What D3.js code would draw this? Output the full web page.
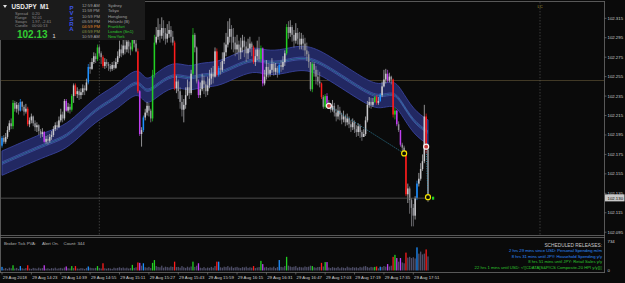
<!DOCTYPE html>
<html>
<head>
<meta charset="utf-8">
<script src="https://cdn.jsdelivr.net/npm/d3@7/dist/d3.min.js"></script>
<style>
body { margin: 0; background: #0a0a0a; }
svg { display: block; font-family: 'Liberation Sans', Arial, sans-serif; }
</style>
</head>
<body>
<div id="viz"></div>
<script>
// USDJPY M1, 29 Aug 2018, bars 14:07 .. 17:59
// prices kept as thousandths above 102.000 (192 -> 102.192)
var timeLabels = ['29 Aug 2018', '29 Aug 14:23', '29 Aug 14:39', '29 Aug 14:55', '29 Aug 15:11',
	'29 Aug 15:27', '29 Aug 15:43', '29 Aug 15:59', '29 Aug 16:15', '29 Aug 16:31', '29 Aug 16:47',
	'29 Aug 17:03', '29 Aug 17:19', '29 Aug 17:35', '29 Aug 17:51'];
var timeLabelBars = [0, 16, 32, 48, 64, 80, 96, 112, 128, 144, 160, 176, 192, 208, 224];
var priceTicks = [102.315, 102.295, 102.275, 102.255, 102.235, 102.215, 102.195,
	102.175, 102.155, 102.135, 102.115, 102.095];
var bidPrice = 102.130;
var levelPrice = 102.251;
var separatorBars = [53, 293];

var firstOpenK = 184;
var closeK = [
	192,188,193,200,207,204,228,222,226,220, //0
	229,224,219,222,206,210,214,207,203,205,
	199,196,198,188,191,189,193,195,201,205, //20
	203,210,216,212,230,220,224,221,235,246,
	237,240,236,239,243,241,249,265,263,270, //40
	276,273,285,279,275,266,270,268,266,263,
	267,264,270,276,283,279,287,283,291,286, //60
	283,295,289,281,240,196,200,213,218,225,
	220,212,257,290,296,303,297,305,300,294, //80
	299,303,296,290,243,250,240,229,221,226,
	236,244,238,258,298,285,250,236,242,251, //100
	247,240,246,253,258,255,281,257,264,262,
	271,280,288,296,304,296,290,283,288,280, //120
	285,292,286,279,284,289,285,270,276,283,
	273,284,248,255,265,258,262,268,260,264, //140
	259,267,265,270,279,306,300,306,298,292,
	300,294,288,294,289,282,278,270,242,268, //160
	262,255,250,248,234,224,235,228,226,221,
	225,218,214,220,216,211,214,208,212,206, //180
	203,208,201,198,204,198,193,196,210,226,
	229,226,229,234,228,230,236,245,252,258, //200
	251,255,252,216,220,206,200,185,182,178,
	134,140,128,120,112,130,145,150,160,168, //220
	214,180,131];
var highK = [
	194,195,197,204,210,212,231,230,229,228,
	232,230,226,227,224,213,217,215,210,208,
	206,201,202,199,194,195,196,199,204,208,
	209,214,222,219,232,232,228,227,237,248,
	248,244,242,243,247,246,253,268,270,274,
	280,279,288,287,281,277,274,273,270,268,
	270,271,274,281,292,288,300,295,298,296,
	290,298,300,293,284,241,203,215,222,229,
	228,222,262,298,306,315,309,316,313,305,
	309,312,307,302,292,256,252,244,236,232,
	244,252,250,262,305,300,286,252,249,258,
	256,250,255,262,264,266,285,284,266,270,
	280,290,300,312,315,308,305,296,298,292,
	295,298,296,291,294,296,291,287,283,292,
	296,287,285,262,272,269,268,274,270,269,
	266,269,272,276,282,309,312,313,308,303,
	310,305,301,300,298,295,290,281,270,270,
	270,266,262,260,249,236,237,238,231,228,
	231,228,222,226,224,218,220,216,217,214,
	210,212,210,205,207,206,200,201,214,230,
	234,233,233,235,236,234,238,250,262,263,
	262,259,256,253,223,221,209,200,187,184,
	179,145,142,130,124,132,148,156,166,175,
	226,217,180];
var lowK = [
	182,186,186,191,198,201,201,219,218,216,
	219,220,215,217,204,203,207,204,199,198,
	195,192,193,187,186,185,187,190,193,199,
	200,202,208,208,210,219,218,217,219,228,
	235,233,231,232,236,236,240,247,258,262,
	268,269,271,276,268,264,263,264,261,260,
	261,262,263,268,274,275,277,278,280,279,
	277,281,285,280,238,194,183,198,210,215,
	214,208,209,254,288,293,290,294,292,288,
	290,295,290,287,241,238,232,222,214,208,
	222,235,232,236,256,280,248,233,233,240,
	237,234,236,243,247,248,254,255,255,257,
	260,268,276,285,290,283,280,276,278,272,
	273,280,275,270,273,280,276,268,266,272,
	270,270,245,246,252,254,255,259,256,257,
	254,257,260,262,266,277,294,296,291,285,
	289,288,283,283,282,276,271,264,240,239,
	255,247,246,244,232,222,222,226,222,218,
	219,214,209,211,210,206,208,204,205,202,
	198,200,197,193,194,192,189,193,194,208,
	223,222,224,228,226,226,229,234,244,248,
	249,249,247,213,211,204,198,183,178,175,
	132,125,114,101,101,108,128,142,148,158,
	166,176,126];
// PVSRA coloured bars: R climax bear, G climax bull, B rising bull, M rising bear
var colouredBars = {0:'B', 6:'G', 10:'B', 14:'R', 23:'M', 35:'M', 38:'G', 40:'R', 47:'B', 52:'G',
	55:'R', 71:'G', 74:'R', 75:'M', 77:'B', 82:'G', 83:'G', 94:'R', 104:'G', 107:'M', 117:'R',
	118:'B', 137:'R', 141:'G', 142:'M', 151:'B', 155:'G', 169:'G', 174:'R', 176:'G', 177:'M',
	203:'G', 204:'R', 206:'B', 210:'M', 213:'R', 214:'G', 215:'M', 217:'M', 220:'R', 226:'B', 231:'R'};
var volumes = [
	90,45,60,40,70,55,130,50,65,40,
	110,55,45,60,130,50,40,65,55,45,
	70,50,60,130,45,55,40,60,50,70,
	45,55,65,50,75,100,55,50,110,60,
	110,50,45,60,55,40,65,100,70,60,
	55,65,110,60,50,180,55,45,60,50,
	40,70,55,65,80,60,75,55,70,50,
	60,140,65,80,200,190,120,180,80,70,
	90,60,190,260,110,90,80,120,70,95,
	85,75,100,90,220,85,90,70,110,80,
	65,95,75,100,220,90,120,180,70,60,
	85,55,75,65,90,70,110,220,220,80,
	70,95,85,110,75,100,65,80,90,70,
	60,85,75,95,65,80,70,110,60,75,
	85,240,160,75,90,65,80,70,95,60,
	85,260,90,80,110,340,120,100,85,95,
	110,70,90,80,75,100,85,95,120,110,
	80,70,85,90,190,100,210,210,75,60,
	85,70,65,90,55,80,70,60,95,75,
	65,85,70,80,60,90,75,100,110,85,
	70,90,80,90,100,55,95,85,110,95,
	160,100,120,340,390,310,220,310,200,180,
	445,320,340,310,330,300,576,420,470,400,
	420,524,350];
var volumeMax = 734;
// moving average envelope centre, sampled on bars
var bandBars = [0, 17, 26, 35, 44, 53, 63, 74, 78, 83, 93, 102, 108, 117, 126, 137, 144, 153, 166, 180, 199, 206, 213, 217, 224, 232];
var bandMidK = [166, 180, 187, 193, 209, 224, 234, 254, 238, 244, 259, 252, 257, 257, 265, 274, 269, 270, 277, 262, 238, 234, 239, 231, 208, 198];
var bandHalfK = 12.5;
// signal markers: w = white ring, y = yellow ring
var markers = [
	{bar: 178, k: 225, type: 'w'},
	{bar: 219, k: 176, type: 'y'},
	{bar: 231, k: 183, type: 'w'},
	{bar: 232, k: 131, type: 'y'}
];
var infoLabels = ['Spread', 'Range', 'Swaps', 'Candle'];
var infoValues = ['0.20', '92.01', '1.97, -2.61', '00:00:13'];
var sessionTimes = ['12:59 AM', '11:59 PM', '10:59 PM', '05:59 PM', '04:59 PM', '03:59 PM', '10:59 AM'];
var sessionCities = ['Sydney', 'Tokyo', 'Hongkong', 'Helsinki (B)', 'Frankfurt', 'London (Sn1)', 'NewYork'];
var releases = [
	{t: 'SCHEDULED RELEASES:', c: '#c8c8c8'},
	{t: '2 hrs 29 mins since USD: Personal Spending m/m', c: '#2d8cff'},
	{t: '8 hrs 31 mins until JPY: Household Spending y/y', c: '#2d8cff'},
	{t: '8 hrs 51 mins until JPY: Retail Sales y/y', c: '#2ec82e'},
	{t: '22 hrs 1 mins until USD: <![CDATA[S&P/CS Composite-20 HPI y/y]]\u25AF', c: '#2ec82e'}
];

var W = 625, H = 283;
var kp = function(k) { return 102 + k / 1000; };
var colours = {R: '#ff1c1c', G: '#22d022', B: '#1e90ff', M: '#c040f0', up: '#c8c8cc', dn: '#909096'};

var bars = closeK.map(function(c, i) {
	var open = i === 0 ? firstOpenK : closeK[i - 1];
	return {
		i: i, open: kp(open), close: kp(c), high: kp(highK[i]), low: kp(lowK[i]),
		kind: colouredBars[i] || (c >= open ? 'up' : 'dn'),
		vol: volumes[i]
	};
});

var svg = d3.select('#viz').append('svg')
	.attr('width', W).attr('height', H)
	.style('background', '#0a0a0a');

var x = d3.scaleLinear().domain([0, 232]).range([2, 428]);
var y = d3.scaleLinear().domain([102.315, 102.095]).range([18.3, 232.2]);
var yv = d3.scaleLinear().domain([0, volumeMax]).range([270.5, 241]);

svg.append('clipPath').attr('id', 'main')
	.append('rect').attr('x', 1).attr('y', 2).attr('width', 603).attr('height', 233);
var plot = svg.append('g').attr('clip-path', 'url(#main)');

// horizontal level and period separators
plot.append('line')
	.attr('x1', 0).attr('x2', 604)
	.attr('y1', y(levelPrice)).attr('y2', y(levelPrice))
	.style('stroke', '#4a3f2a').style('stroke-width', 0.9);
plot.selectAll('.sep').data(separatorBars).enter().append('line')
	.attr('class', 'sep')
	.attr('x1', function(d) { return x(d); }).attr('x2', function(d) { return x(d); })
	.attr('y1', 2).attr('y2', 235)
	.style('stroke', '#5a5a5a').style('stroke-width', 0.6)
	.style('stroke-dasharray', '1.5,1.5');

// envelope band
var band = bandBars.map(function(b, j) { return {b: b, m: bandMidK[j]}; });
var area = d3.area()
	.x(function(d) { return x(d.b); })
	.y0(function(d) { return y(kp(d.m - bandHalfK)); })
	.y1(function(d) { return y(kp(d.m + bandHalfK)); })
	.curve(d3.curveBasis);
plot.append('path').datum(band).attr('d', area)
	.style('fill', '#222862').style('stroke', '#39439c').style('stroke-width', 0.9);
[-1.3, 1.3].forEach(function(off) {
	plot.append('path').datum(band)
		.attr('d', d3.line().x(function(d) { return x(d.b); })
			.y(function(d) { return y(kp(d.m + off)); }).curve(d3.curveBasis))
		.style('fill', 'none').style('stroke', '#5066c4').style('stroke-width', 0.6);
});
plot.append('path').datum(band)
	.attr('d', d3.line().x(function(d) { return x(d.b); })
		.y(function(d) { return y(kp(d.m)); }).curve(d3.curveBasis))
	.style('fill', 'none').style('stroke', '#3fa8d0').style('stroke-width', 0.5);

// candles
var candle = plot.selectAll('.bar').data(bars).enter().append('g').attr('class', 'bar');
candle.append('line')
	.attr('x1', function(d) { return x(d.i); }).attr('x2', function(d) { return x(d.i); })
	.attr('y1', function(d) { return y(d.high); }).attr('y2', function(d) { return y(d.low); })
	.style('stroke', function(d) { return colours[d.kind]; })
	.style('stroke-width', 0.7);
candle.append('rect')
	.attr('x', function(d) { return x(d.i) - 0.75; })
	.attr('width', 1.5)
	.attr('y', function(d) { return Math.min(y(d.open), y(d.close)); })
	.attr('height', function(d) { return Math.max(0.8, Math.abs(y(d.open) - y(d.close))); })
	.style('fill', function(d) { return colours[d.kind]; });

// trend lines between signal markers
[[0, 1], [2, 3]].forEach(function(p) {
	var a = markers[p[0]], b = markers[p[1]];
	plot.append('line')
		.attr('x1', x(a.bar)).attr('y1', y(kp(a.k)))
		.attr('x2', x(b.bar)).attr('y2', y(kp(b.k)))
		.style('stroke', '#3aa6cc').style('stroke-width', 0.8)
		.style('stroke-dasharray', '1,1.4');
});

// bid line
plot.append('line')
	.attr('x1', 0).attr('x2', x(232) + 3)
	.attr('y1', y(bidPrice)).attr('y2', y(bidPrice))
	.style('stroke', '#5c5c5c').style('stroke-width', 0.8);
plot.append('rect')
	.attr('x', x(232) + 4).attr('y', y(bidPrice) - 1.5)
	.attr('width', 2.2).attr('height', 3)
	.style('fill', '#22d022');

plot.selectAll('.mk').data(markers).enter().append('circle')
	.attr('class', 'mk')
	.attr('cx', function(d) { return x(d.bar); })
	.attr('cy', function(d) { return y(kp(d.k)); })
	.attr('r', 2.5)
	.style('fill', function(d) { return d.type === 'w' ? '#c83a3a' : '#0a0a0a'; })
	.style('stroke', function(d) { return d.type === 'w' ? '#f4f4f4' : '#f2e600'; })
	.style('stroke-width', 1.2);

plot.append('text').attr('x', x(separatorBars[1]) - 2.5).attr('y', 8)
	.style('font-size', '4px').style('fill', '#a89a30').text('LC');

// frames
var frame = svg.append('g').style('stroke', '#6c6c6c').style('stroke-width', 0.8).style('fill', 'none');
frame.append('line').attr('x1', 0).attr('x2', 605).attr('y1', 1.5).attr('y2', 1.5);
frame.append('line').attr('x1', 604.5).attr('x2', 604.5).attr('y1', 1.5).attr('y2', 272.5);
frame.append('line').attr('x1', 0).attr('x2', 605).attr('y1', 235.5).attr('y2', 235.5);
frame.append('line').attr('x1', 0).attr('x2', 605).attr('y1', 237.5).attr('y2', 237.5);
frame.append('line').attr('x1', 0).attr('x2', 605).attr('y1', 272.5).attr('y2', 272.5);
frame.append('line').attr('x1', 0.5).attr('x2', 0.5).attr('y1', 1.5).attr('y2', 272.5);

// price axis
var yAxis = svg.append('g');
priceTicks.forEach(function(p) {
	yAxis.append('line').attr('x1', 604.5).attr('x2', 606.5)
		.attr('y1', y(p)).attr('y2', y(p))
		.style('stroke', '#8a8a8a').style('stroke-width', 0.6);
	yAxis.append('text').attr('x', 607.5).attr('y', y(p) + 1.5)
		.style('font-size', '4.3px').style('fill', '#d0d0d0').text(p.toFixed(3));
});
yAxis.append('rect').attr('x', 605).attr('y', y(bidPrice) - 3.8)
	.attr('width', 19.5).attr('height', 7).style('fill', '#c8c8c8');
yAxis.append('text').attr('x', 607.5).attr('y', y(bidPrice) + 1.5)
	.style('font-size', '4.3px').style('fill', '#000').text(bidPrice.toFixed(3));

// volume sub-window
var vol = svg.append('g');
vol.selectAll('.v').data(bars).enter().append('rect')
	.attr('class', 'v')
	.attr('x', function(d) { return x(d.i) - 0.65; })
	.attr('width', 1.3)
	.attr('y', function(d) { return yv(d.vol); })
	.attr('height', function(d) { return yv(0) - yv(d.vol); })
	.style('fill', function(d) { return colouredBars[d.i] ? colours[d.kind] : '#4e4e68'; });
vol.append('text').attr('x', 4).attr('y', 244.8)
	.style('font-size', '4.3px').style('fill', '#b8b8b8')
	.attr('xml:space', 'preserve')
	.text('Broker Tick PVA:     Alert On.    Count: 344');
[volumeMax, 0].forEach(function(v) {
	vol.append('text').attr('x', 607.5).attr('y', yv(v) + 1.5)
		.style('font-size', '4.3px').style('fill', '#d0d0d0').text(v);
});
vol.selectAll('.rel').data(releases).enter().append('text')
	.attr('class', 'rel')
	.attr('x', 602).attr('y', function(d, i) { return 247 + i * 5.4; })
	.attr('text-anchor', 'end')
	.style('font-size', function(d, i) { return i === 0 ? '4.8px' : '4.2px'; })
	.style('fill', function(d) { return d.c; })
	.text(function(d) { return d.t; });

// time axis
var tAxis = svg.append('g');
timeLabelBars.forEach(function(b, j) {
	tAxis.append('line').attr('x1', x(b)).attr('x2', x(b)).attr('y1', 272.5).attr('y2', 274.5)
		.style('stroke', '#8a8a8a').style('stroke-width', 0.6);
	tAxis.append('text').attr('x', x(b) + 0.8).attr('y', 279)
		.style('font-size', '4.3px').style('fill', '#d0d0d0').text(timeLabels[j]);
});

// info panel
var info = svg.append('g');
info.append('rect').attr('x', 0).attr('y', 0).attr('width', 145).attr('height', 40)
	.style('fill', '#1b1b1b');
info.append('path').attr('d', 'M3,5 L7,5 L5,8 Z').style('fill', '#e0e0e0');
info.append('text').attr('x', 11.5).attr('y', 9.2)
	.style('font-size', '6.3px').style('font-weight', 'bold').style('fill', '#ececec')
	.attr('xml:space', 'preserve').text('USDJPY  M1');
infoLabels.forEach(function(l, j) {
	info.append('text').attr('x', 15).attr('y', 14.8 + j * 4.2)
		.style('font-size', '4px').style('fill', '#8c8c8c').text(l);
	info.append('text').attr('x', 32).attr('y', 14.8 + j * 4.2)
		.style('font-size', '4px').style('fill', '#8c8c8c').text(infoValues[j]);
});
info.append('text').attr('x', 17).attr('y', 37.8)
	.style('font-size', '10px').style('font-weight', 'bold').style('fill', '#32cd32')
	.text(bidPrice.toFixed(2));
info.append('text').attr('x', 52.5).attr('y', 37.8)
	.style('font-size', '5.5px').style('fill', '#e0e0e0').text('1');
'PVSRA'.split('').forEach(function(ch, j) {
	info.append('text').attr('x', 71.5).attr('y', 10 + j * 5.3)
		.attr('text-anchor', 'middle')
		.style('font-size', '6px').style('font-weight', 'bold').style('fill', '#3c55e8')
		.text(ch);
});
var timeColours = ['#a0a0a0', '#a0a0a0', '#a0a0a0', '#a0a0a0', '#e08a2a', '#8c9a48', '#a0a0a0'];
var cityColours = ['#a0a0a0', '#a0a0a0', '#a0a0a0', '#a0a0a0', '#2ec82e', '#2ec82e', '#2ec82e'];
sessionTimes.forEach(function(t, j) {
	info.append('text').attr('x', 82).attr('y', 7.3 + j * 5.1)
		.style('font-size', '4.2px').style('fill', timeColours[j]).text(t);
	info.append('text').attr('x', 108).attr('y', 7.3 + j * 5.1)
		.style('font-size', '4.2px').style('fill', cityColours[j]).text(sessionCities[j]);
});
</script>
</body>
</html>
